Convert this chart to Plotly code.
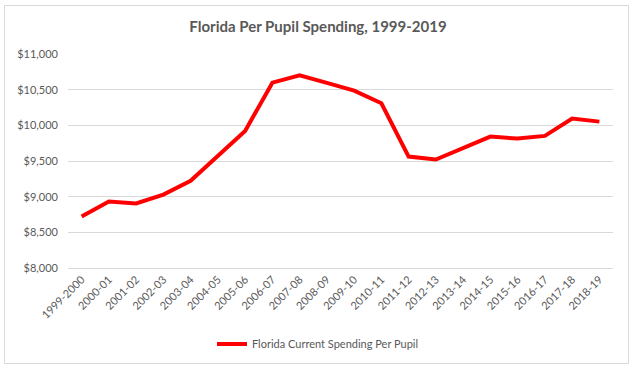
import plotly.graph_objects as go

years = ["1999-2000", "2000-01", "2001-02", "2002-03", "2003-04", "2004-05",
         "2005-06", "2006-07", "2007-08", "2008-09", "2009-10", "2010-11",
         "2011-12", "2012-13", "2013-14", "2014-15", "2015-16", "2016-17",
         "2017-18", "2018-19"]
spending = [8722, 8932, 8904, 9030, 9222, 9565, 9922, 10598, 10702, 10596,
            10486, 10310, 9562, 9520, 9688, 9842, 9814, 9852, 10094, 10052]
series_name = "Florida Current Spending Per Pupil"
title_text = "<b>Florida Per Pupil Spending, 1999-2019</b>"
y_ticks = [8000, 8500, 9000, 9500, 10000, 10500, 11000]

FONT = "Lato, 'Open Sans', sans-serif"
GRAY = "#595959"

fig = go.Figure()
fig.add_trace(go.Scatter(
    x=years, y=spending, mode="lines", name=series_name,
    line=dict(color="#FF0000", width=4),
))

W, H = 636, 370
L, R, T, B = 68, 23, 54, 102
pw, ph = W - L - R, H - T - B

def px_x(x):
    return (x - L) / pw

def px_y(y):
    return (H - B - y) / ph

fig.update_layout(
    width=W, height=H,
    margin=dict(l=L, r=R, t=T, b=B, autoexpand=False),
    paper_bgcolor="white", plot_bgcolor="white",
    font=dict(family=FONT, color=GRAY, size=12),
    title=dict(text=title_text, x=0.5, xanchor="center", y=1 - 27 / H, yanchor="middle",
               font=dict(family=FONT, size=15, color=GRAY)),
    showlegend=True,
    legend=dict(orientation="h", x=px_x(318), xanchor="center", xref="paper",
                y=px_y(344), yanchor="middle", font=dict(size=11, color=GRAY),
                bgcolor="rgba(0,0,0,0)", itemwidth=30),
    xaxis=dict(type="category", tickangle=-45, showgrid=False, showline=True,
               linecolor="#D9D9D9", linewidth=1, ticks="", tickfont=dict(size=11, color=GRAY),
               range=[-0.5, len(years) - 0.5]),
    yaxis=dict(range=[8000, 11000], tickvals=y_ticks,
               ticktext=[f"${v:,}" for v in y_ticks], showgrid=True,
               gridcolor="#D9D9D9", gridwidth=1, zeroline=False, showline=False,
               ticks="", ticklen=0, ticklabelstandoff=9,
               tickfont=dict(size=11, color=GRAY)),
    shapes=[dict(type="rect", xref="paper", yref="paper",
                 x0=px_x(4.5), x1=px_x(628.5), y0=px_y(363.5), y1=px_y(5.5),
                 line=dict(color="#D9D9D9", width=1), fillcolor="rgba(0,0,0,0)",
                 layer="above")],
)

fig.write_html("out.html", config={"displayModeBar": False},
               post_script="document.body.style.margin='0';")
